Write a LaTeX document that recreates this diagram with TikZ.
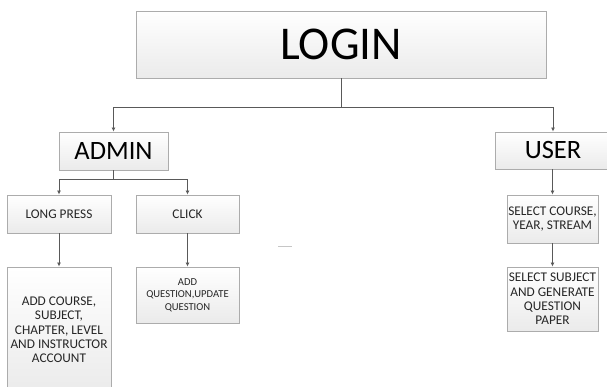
\documentclass[tikz,border=0pt]{standalone}
\usepackage{fontspec}
\setmainfont{Carlito}
\usetikzlibrary{arrows.meta,shadows}
\tikzset{
  boxstyle/.style={draw=gray!65, line width=0.9pt, top color=white, bottom color=gray!16,
    inner sep=0pt, align=center, text=black!85,
    drop shadow={opacity=0.18, shadow xshift=1pt, shadow yshift=-1pt}},
  bigtext/.style={font=\fontsize{26.5}{30}\selectfont, text=black},
  smalltext/.style={font=\fontsize{13.3}{14.3}\selectfont},
  conn/.style={draw=gray!70!black, line width=0.9pt},
  arr/.style={conn, -{Latex[length=4pt,width=4pt]}}
}
\begin{document}
\begin{tikzpicture}[x=1pt,y=-1pt]
\clip (0,0) rectangle (607,387);
\fill[white] (0,0) rectangle (607,387);
% boxes
\node[boxstyle, minimum width=410pt, minimum height=67pt, font=\fontsize{47}{50}\selectfont, text=black] (login) at (341,44.5) {LOGIN};
\node[boxstyle, bigtext, minimum width=109pt, minimum height=38pt] (admin) at (113.5,151) {ADMIN};
\node[boxstyle, bigtext, minimum width=116pt, minimum height=37pt] (user) at (553,150.5) {USER};
\node[boxstyle, smalltext, minimum width=104pt, minimum height=38pt] (long) at (59,214) {LONG PRESS};
\node[boxstyle, smalltext, minimum width=103pt, minimum height=38pt] (click) at (187.5,214) {CLICK};
\node[boxstyle, smalltext, minimum width=104pt, minimum height=126pt] (addc) at (59,330) {ADD COURSE,\\SUBJECT,\\CHAPTER, LEVEL\\AND INSTRUCTOR\\ACCOUNT};
\node[boxstyle, font=\fontsize{10.6}{12.6}\selectfont, minimum width=103pt, minimum height=56pt] (addq) at (187.5,295) {ADD\\QUESTION,UPDATE\\QUESTION};
\node[boxstyle, smalltext, minimum width=91pt, minimum height=48pt] (selc) at (552.5,219) {SELECT COURSE,\\YEAR, STREAM};
\node[boxstyle, smalltext, minimum width=91pt, minimum height=64pt] (sels) at (552.5,299) {SELECT SUBJECT\\AND GENERATE\\QUESTION\\PAPER};
% junction coordinates
\coordinate (j1) at (341,107);
\coordinate (j2) at (113.5,179);
% connectors
\draw[conn] (login.south) -- (j1);
\draw[arr] (j1) -| (admin.north);
\draw[arr] (j1) -| (user.north);
\draw[conn] (admin.south) -- (j2);
\draw[arr] (j2) -| (long.north);
\draw[arr] (j2) -| (click.north);
\draw[arr] (long.south) -- (addc.north);
\draw[arr] (click.south) -- (addq.north);
\draw[arr] (user.south -| selc.north) -- (selc.north);
\draw[arr] (selc.south) -- (sels.north);
% stray dash
\coordinate (d1) at (278,246);
\coordinate (d2) at (292,246);
\draw[gray!45, line width=0.8pt] (d1) -- (d2);
\end{tikzpicture}
\end{document}
